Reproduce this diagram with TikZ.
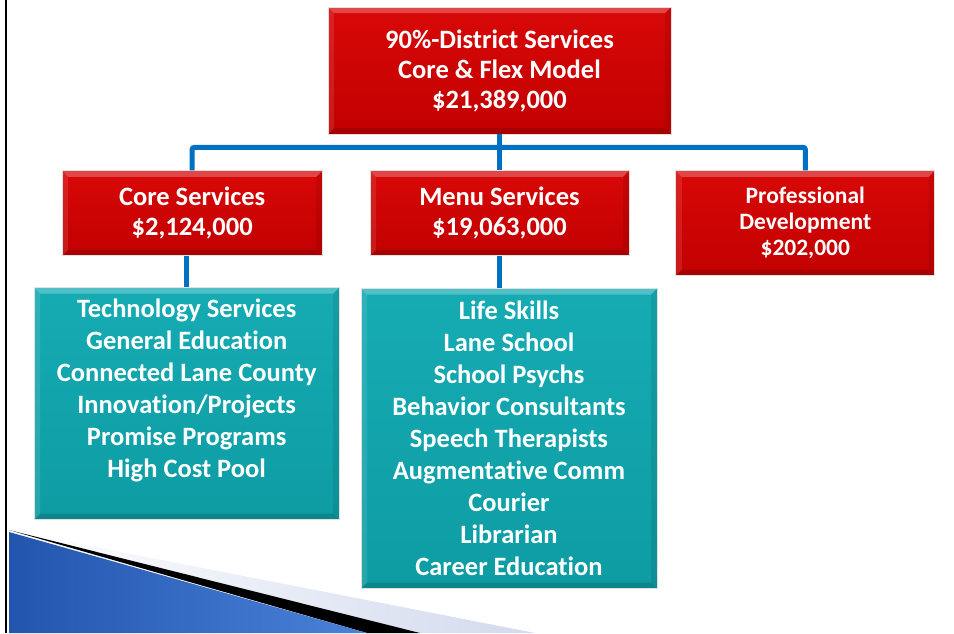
\documentclass[tikz,border=0pt]{standalone}
\usepackage{fontspec}
\setmainfont{Carlito}[Ligatures=NoCommon]
\usetikzlibrary{positioning, calc}

\definecolor{redtop}{HTML}{D80808}
\definecolor{redbot}{HTML}{C20000}
\definecolor{tealtop}{HTML}{16ABB3}
\definecolor{tealbot}{HTML}{0E9CA3}
\definecolor{linkblue}{HTML}{0070C0}
\definecolor{ribbondark}{HTML}{2355AE}
\definecolor{ribbonlight}{HTML}{4A82D8}
\definecolor{ribbonpale}{HTML}{D3DAEE}

\begin{document}
\begin{tikzpicture}[
    x=1pt, y=-1pt,
    bevel/.style={path picture={
        \coordinate (bnw) at (path picture bounding box.north west);
        \coordinate (bse) at (path picture bounding box.south east);
        \fill[white, opacity=0.25] (bnw) -- (bnw -| bse) -- ($(bnw -| bse)+(-6pt,-6pt)$) -- ($(bnw)+(6pt,-6pt)$) -- cycle;
        \fill[white, opacity=0.10] (bnw) -- ($(bnw)+(6pt,-6pt)$) -- ($(bnw |- bse)+(6pt,6pt)$) -- (bnw |- bse) -- cycle;
        \fill[black, opacity=0.08] (bse) -- (bse |- bnw) -- ($(bse |- bnw)+(-6pt,-6pt)$) -- ($(bse)+(-6pt,6pt)$) -- cycle;
        \fill[black, opacity=0.14] (bse) -- (bnw |- bse) -- ($(bnw |- bse)+(6pt,6pt)$) -- ($(bse)+(-6pt,6pt)$) -- cycle;
    }},
    box/.style={rectangle, draw=black!12, line width=0.8pt, top color=redtop, bottom color=redbot, bevel, text=white, align=center, inner sep=0pt, font=\bfseries\fontsize{26.5}{30}\selectfont},
    listbox/.style={box, top color=tealtop, bottom color=tealbot, font=\bfseries\fontsize{26.5}{32}\selectfont},
    link/.style={draw=linkblue, line width=5pt, rounded corners=2pt}
]
\useasboundingbox (0,0) rectangle (954,633);
% Slide frame and corner ribbon
\draw[line width=2.5pt] (6,0) -- (6,633);
\shade[left color=white, right color=ribbonpale] (9,530) -- (535,633) -- (420,633) -- cycle;
\fill[black] (9,530) -- (420,633) -- (367,633) -- cycle;
\shade[left color=ribbondark, right color=ribbonlight] (9,532) -- (367,633) -- (9,633) -- cycle;
% Top
\node[box, minimum width=343pt, minimum height=127pt] (district) at (499.5,70.5) {90\%-District Services\\Core \& Flex Model\\\$21,389,000};
% Second row
\node[box, minimum width=259pt, minimum height=85pt, below=36pt of district] (menu) {Menu Services\\\$19,063,000};
\node[box, minimum width=260pt, minimum height=85pt, left=47pt of menu] (core) {Core Services\\\$2,124,000};
\node[box, minimum width=259pt, minimum height=105pt, font=\bfseries\fontsize{23.5}{26}\selectfont, right=46pt of menu.north east, anchor=north west] (profdev) {Professional\\Development\\\$202,000};
% Service lists
\node[listbox, minimum width=305pt, minimum height=232pt, text depth=30pt, below=31pt of core, xshift=-5.5pt] (corelist) {Technology Services\\General Education\\Connected Lane County\\Innovation/Projects\\Promise Programs\\High Cost Pool};
\node[listbox, minimum width=296pt, minimum height=300pt, below=32pt of menu, xshift=9.5pt] (menulist) {Life Skills\\Lane School\\School Psychs\\Behavior Consultants\\Speech Therapists\\Augmentative Comm\\Courier\\Librarian\\Career Education};
% Connectors
\coordinate (bus) at ($(district.south)+(0,13)$);
\draw[link] (core.north) |- (bus) -| (profdev.north);
\draw[link] (district.south) -- (menu.north);
\draw[link] (core.south -| corelist.north) -- (corelist.north);
\draw[link] (menu.south) -- (menu.south |- menulist.north);
\end{tikzpicture}
\end{document}
